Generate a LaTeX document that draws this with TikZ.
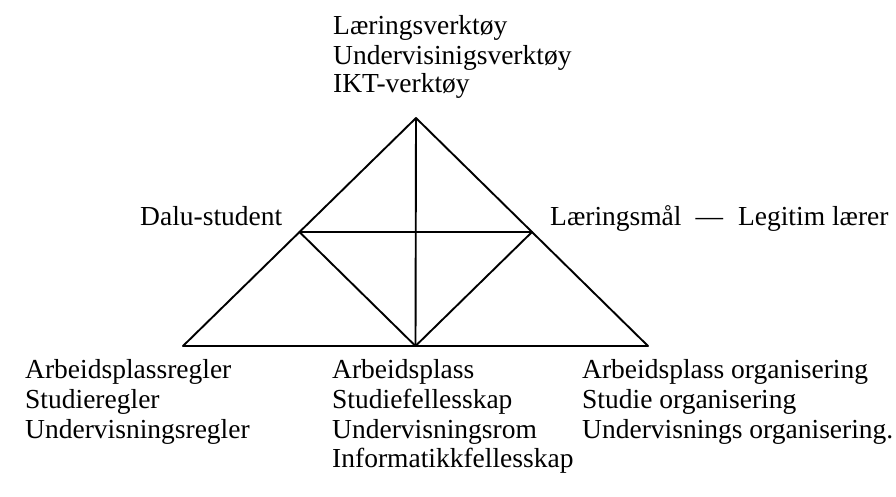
\documentclass[tikz,border=0pt]{standalone}
\usepackage{fontspec}
\setmainfont{Liberation Serif}
\begin{document}
\begin{tikzpicture}[x=1pt,y=-1pt,
  lbl/.style={anchor=base west,inner sep=0pt,font=\fontsize{27.5}{29.7}\selectfont},
  edge/.style={line width=1.9pt,line cap=round,line join=round}]
\useasboundingbox (0,0) rectangle (896,497);
% vertices
\coordinate (apex) at (416,118);
\coordinate (bl) at (183,346);
\coordinate (br) at (648,346);
\coordinate (bm) at (415.5,346);
\coordinate (ml) at (299.5,232);
\coordinate (mr) at (532,232);
% triangle
\draw[edge] (apex) -- (bl) -- (br) -- cycle;
\draw[edge] (apex) -- (bm);
\draw[edge] (ml) -- (mr);
\draw[edge] (ml) -- (bm) -- (mr);
% top
\node[lbl] (t1) at (333,35) {Læringsverktøy};
\node[lbl] (t2) at (333,64.5) {Undervisinigsverktøy};
\node[lbl] (t3) at (333,93) {IKT-verktøy};
% middle
\node[lbl] (subj) at (140,225) {Dalu-student};
\node[lbl] (obj) at (550,225) {Læringsmål\hspace{14pt}—\hspace{15pt}Legitim lærer};
% bottom left
\node[lbl] (l1) at (25,378) {Arbeidsplassregler};
\node[lbl] (l2) at (25,408) {Studieregler};
\node[lbl] (l3) at (25,438) {Undervisningsregler};
% bottom middle
\node[lbl] (m1) at (332,378) {Arbeidsplass};
\node[lbl] (m2) at (332,408) {Studiefellesskap};
\node[lbl] (m3) at (332,438) {Undervisningsrom};
\node[lbl] (m4) at (332,467) {Informatikkfellesskap};
% bottom right
\node[lbl] (r1) at (582,378) {Arbeidsplass organisering};
\node[lbl] (r2) at (582,408) {Studie organisering};
\node[lbl] (r3) at (582,438) {Undervisnings organisering.};
\end{tikzpicture}
\end{document}
